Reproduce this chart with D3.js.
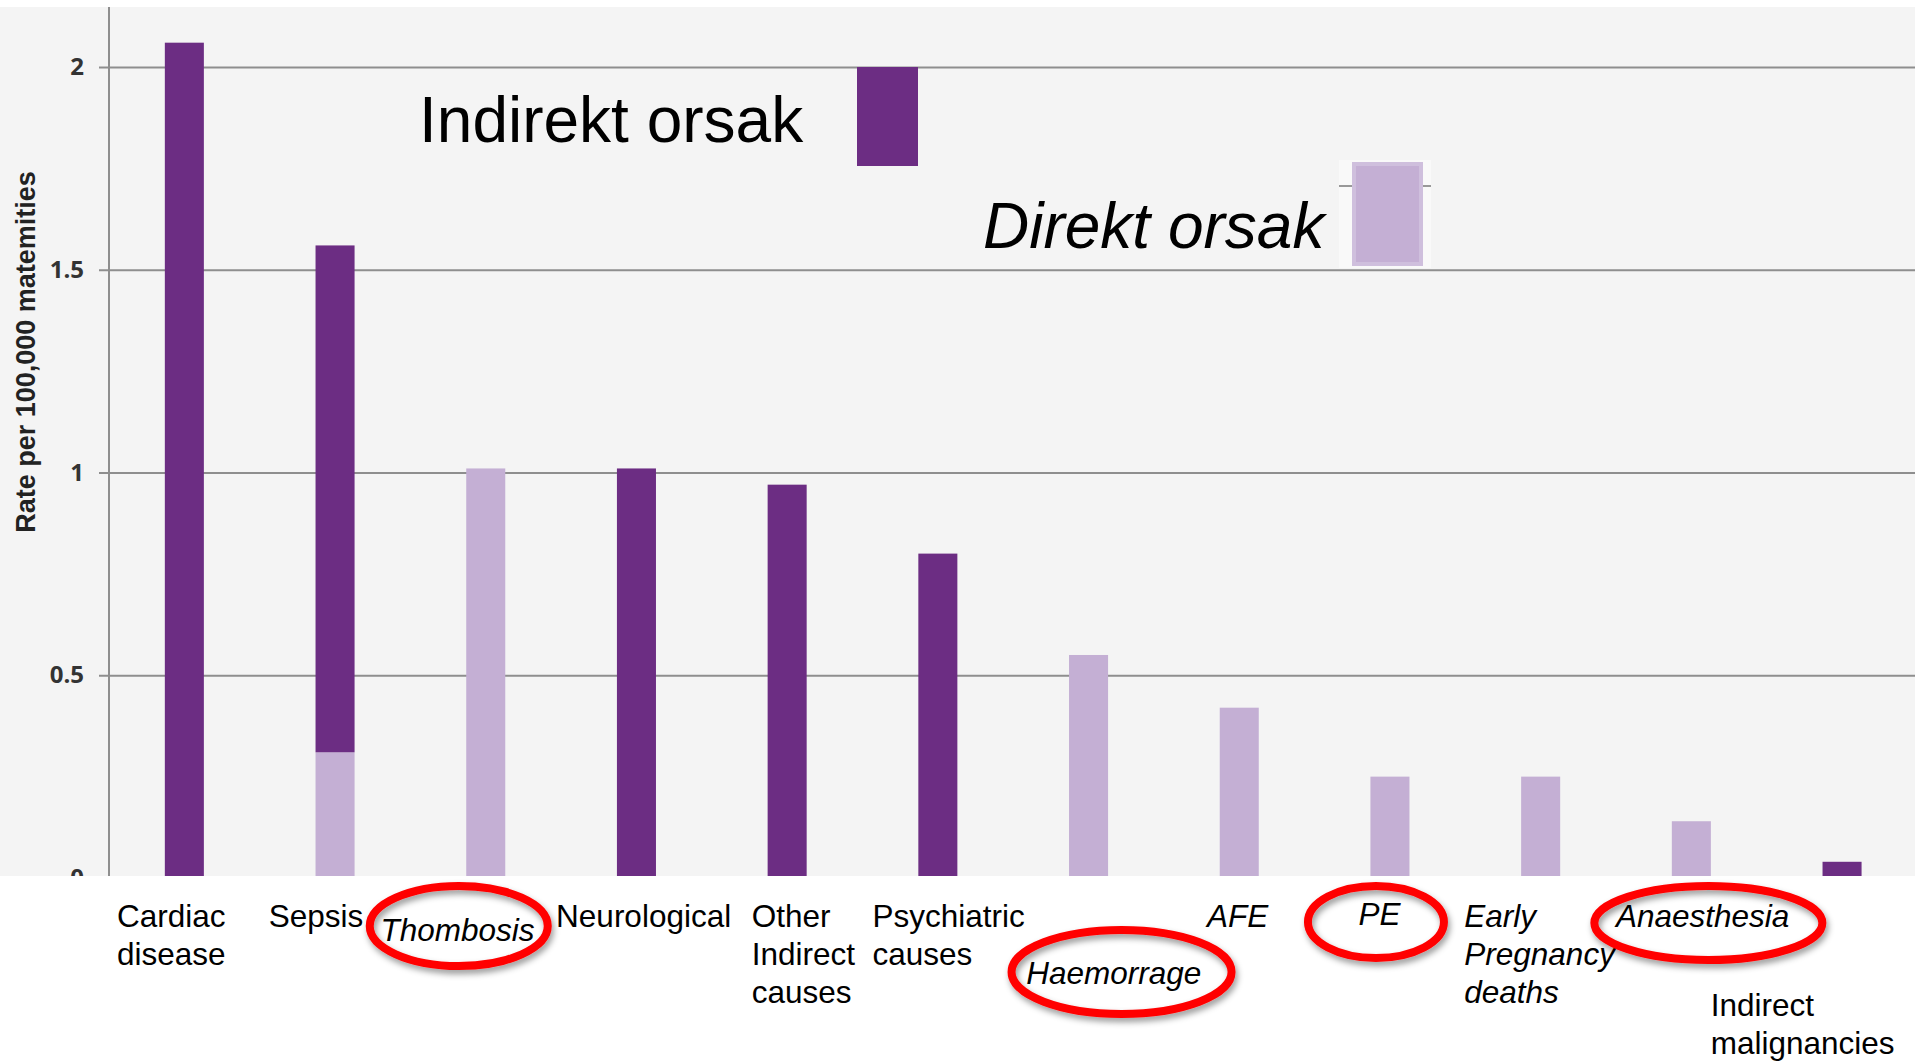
<!DOCTYPE html>
<html>
<head>
<meta charset="utf-8">
<script src="https://cdn.jsdelivr.net/npm/d3@7"></script>
<style>
	body { margin: 0; background: #fff; }
	svg { display: block; }
</style>
</head>
<body>
<div id="graphique"></div>
<script>
"use strict";

// les données
var categories = ["Cardiac disease", "Sepsis", "Thombosis", "Neurological", "Other Indirect causes",
		"Psychiatric causes", "Haemorrage", "AFE", "PE", "Early Pregnancy deaths", "Anaesthesia",
		"Indirect malignancies"],
	etiquettes = [["Cardiac", "disease"], ["Sepsis"], ["Thombosis"], ["Neurological"], ["Other", "Indirect", "causes"],
		["Psychiatric", "causes"], ["Haemorrage"], ["AFE"], ["PE"], ["Early", "Pregnancy", "deaths"], ["Anaesthesia"],
		["Indirect", "malignancies"]],
	indirekt = [2.06, 1.25, 0, 1.01, 0.97, 0.80, 0, 0, 0, 0, 0, 0.04],
	direkt = [0, 0.31, 1.01, 0, 0, 0, 0.55, 0.42, 0.25, 0.25, 0.14, 0],
	graduations = [0, 0.5, 1, 1.5, 2],
	series = ["Indirekt orsak", "Direkt orsak"],
	entourees = ["Thombosis", "Haemorrage", "PE", "Anaesthesia"];

var W = 1915, H = 1061,
	couleurs = { indirekt: "#6c2d83", direkt: "#c4afd4" },
	cadre = { left: 109, top: 7, bas: 876 };

var svg = d3.select("#graphique").append("svg")
		.attr("width", W)
		.attr("height", H)
		.attr("xmlns", "http://www.w3.org/2000/svg");

// ombre des ellipses rouges
svg.append("defs").append("filter")
	.attr("id", "ombre")
	.attr("x", "-20%").attr("y", "-20%").attr("width", "140%").attr("height", "150%")
	.append("feDropShadow")
		.attr("dx", 2).attr("dy", 4).attr("stdDeviation", 3)
		.attr("flood-color", "#000").attr("flood-opacity", 0.4);

svg.append("rect").attr("width", W).attr("height", H).attr("fill", "#fff");
svg.append("rect")
	.attr("x", 0).attr("y", cadre.top)
	.attr("width", W).attr("height", cadre.bas - cadre.top)
	.attr("fill", "#f4f4f4");

// échelles
var x = d3.scaleBand()
		.domain(categories)
		.range([cadre.left, cadre.left + 12 * 150.7])
		.paddingInner(0.741)
		.paddingOuter(0.3705),
	y = d3.scaleLinear()
		.domain([0, 2.148])
		.range([878, cadre.top]);

// grilles puis graduations
svg.append("g")
	.attr("transform", "translate(" + cadre.left + ",0)")
	.call(d3.axisLeft(y).tickValues(graduations).tickSize(-(W - cadre.left)).tickFormat(""))
	.call(g => g.select(".domain").remove())
	.call(g => g.selectAll("line").attr("stroke", "#8e8e8e").attr("stroke-width", 2));

svg.append("g")
	.attr("transform", "translate(" + cadre.left + ",0)")
	.call(d3.axisLeft(y).tickValues(graduations).tickSize(10).tickPadding(15).tickFormat(d3.format("")))
	.call(g => g.select(".domain").attr("stroke", "#8e8e8e").attr("stroke-width", 2)
		.attr("d", "M0," + y(0) + "V" + cadre.top))
	.call(g => g.selectAll("line").attr("stroke", "#8e8e8e").attr("stroke-width", 2))
	.call(g => g.selectAll("text")
		.attr("font-family", "'Open Sans', sans-serif")
		.attr("font-weight", 700)
		.attr("font-size", 24)
		.attr("fill", "#333"));

// barres empilées : le direct en bas
var table = categories.map((c, i) => ({ cat: c, direkt: direkt[i], indirekt: indirekt[i] })),
	pile = d3.stack().keys(["direkt", "indirekt"])(table);

svg.append("g").selectAll("g")
	.data(pile)
	.join("g")
		.attr("fill", d => couleurs[d.key])
	.selectAll("rect")
	.data(d => d.filter(p => p[1] > p[0]))
	.join("rect")
		.attr("x", d => x(d.data.cat))
		.attr("width", x.bandwidth())
		.attr("y", d => y(d[1]))
		.attr("height", d => y(d[0]) - y(d[1]));

// titre de l'axe Y
svg.append("text")
	.attr("transform", "translate(26,352) rotate(-90)")
	.attr("text-anchor", "middle")
	.attr("dominant-baseline", "central")
	.attr("font-family", "'Liberation Sans', Arial, sans-serif")
	.attr("font-weight", "bold")
	.attr("font-size", 27)
	.attr("fill", "#222")
	.text("Rate per 100,000 matemities");

// légende
var legende = svg.append("g").attr("font-family", "'Liberation Sans', Arial, sans-serif").attr("font-size", 64);
legende.append("text")
	.attr("x", 419).attr("y", 142)
	.text(series[0]);
legende.append("rect")
	.attr("x", 857).attr("y", 67).attr("width", 61).attr("height", 99)
	.attr("fill", couleurs.indirekt);
legende.append("text")
	.attr("x", 983).attr("y", 248)
	.attr("font-style", "italic")
	.text(series[1]);
legende.append("rect")
	.attr("x", 1339).attr("y", 160).attr("width", 92).attr("height", 108)
	.attr("fill", "#f9f9f9");
legende.append("line")
	.attr("x1", 1339).attr("x2", 1431).attr("y1", 186).attr("y2", 186)
	.attr("stroke", "#999").attr("stroke-width", 2);
legende.append("rect")
	.attr("x", 1354).attr("y", 164).attr("width", 67).attr("height", 100)
	.attr("fill", couleurs.direkt)
	.attr("stroke", "#cfbfdd").attr("stroke-width", 4);

// zone blanche sous le tracé
svg.append("rect")
	.attr("x", 0).attr("y", cadre.bas)
	.attr("width", W).attr("height", H - cadre.bas)
	.attr("fill", "#fff");

// étiquettes des catégories, placées comme sur la diapositive
var placement = {
	"Cardiac disease": [8, 927], "Sepsis": [9, 927], "Thombosis": [-30, 941], "Neurological": [-5, 927],
	"Other Indirect causes": [40, 927], "Psychiatric causes": [10, 927], "Haemorrage": [13, 984],
	"AFE": [43, 927], "PE": [44, 925], "Early Pregnancy deaths": [-1, 927], "Anaesthesia": [0, 927],
	"Indirect malignancies": [-56, 1016]
};
var debut = c => x(c) - (x.step() - x.bandwidth()) / 2;

svg.append("g")
	.attr("font-family", "'Liberation Sans', Arial, sans-serif")
	.attr("font-size", 31.5)
	.attr("fill", "#000")
	.selectAll("text")
	.data(categories)
	.join("text")
		.attr("x", c => debut(c) + placement[c][0])
		.attr("y", c => placement[c][1])
		.attr("font-style", (c, i) => indirekt[i] === 0 ? "italic" : null)
		.selectAll("tspan")
		.data((c, i) => etiquettes[i].map(l => ({ l: l, c: c })))
		.join("tspan")
			.attr("x", d => debut(d.c) + placement[d.c][0])
			.attr("dy", (d, j) => j ? 38 : 0)
			.text(d => d.l);

// ellipses rouges autour des causes directes soulignées
var ellipses = {
	"Thombosis": { dx: -27, cy: 926, rx: 89, ry: 40 },
	"Haemorrage": { dx: 33, cy: 972, rx: 110, ry: 42 },
	"PE": { dx: -14, cy: 922, rx: 68, ry: 36 },
	"Anaesthesia": { dx: 17, cy: 923, rx: 114, ry: 37 }
};
svg.append("g")
	.attr("filter", "url(#ombre)")
	.selectAll("ellipse")
	.data(entourees)
	.join("ellipse")
		.attr("cx", c => x(c) + x.bandwidth() / 2 + ellipses[c].dx)
		.attr("cy", c => ellipses[c].cy)
		.attr("rx", c => ellipses[c].rx)
		.attr("ry", c => ellipses[c].ry)
		.attr("fill", "none")
		.attr("stroke", "#ff0000")
		.attr("stroke-width", 8);
</script>
</body>
</html>
